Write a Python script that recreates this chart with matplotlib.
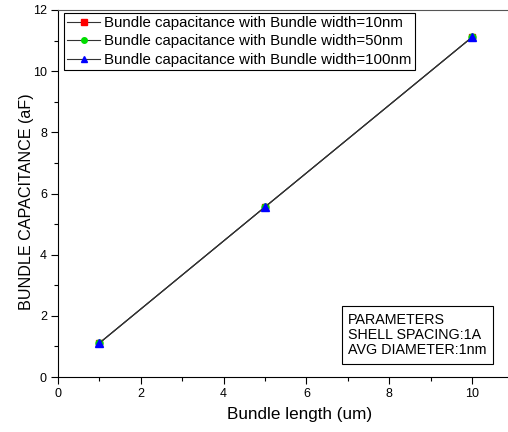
import matplotlib
matplotlib.use("Agg")
import matplotlib.pyplot as plt
from matplotlib.ticker import MultipleLocator

plt.rcParams['font.family'] = ['Liberation Sans', 'DejaVu Sans']

bundle_length = [1, 5, 10]
cap_w10 = [1.11, 5.56, 11.11]
cap_w50 = [1.11, 5.56, 11.11]
cap_w100 = [1.11, 5.56, 11.11]
labels = ["Bundle capacitance with Bundle width=10nm",
          "Bundle capacitance with Bundle width=50nm",
          "Bundle capacitance with Bundle width=100nm"]

fig = plt.figure(figsize=(5.08, 4.32), dpi=100)
ax = fig.add_axes([58/508, 1-377/432, 1-58/508, (377-10)/432])

ax.plot(bundle_length, cap_w10, color='#333333', lw=0.8, marker='s', ms=5,
        mfc='red', mec='red', label=labels[0])
ax.plot(bundle_length, cap_w50, color='#333333', lw=0.8, marker='o', ms=5,
        mfc='#00dd00', mec='#00dd00', label=labels[1])
ax.plot(bundle_length, cap_w100, color='#333333', lw=0.8, marker='^', ms=6,
        mfc='blue', mec='blue', label=labels[2])

ax.set_xlim(0, (508-58)/41.4)
ax.set_ylim(0, 12)
ax.xaxis.set_major_locator(MultipleLocator(2))
ax.xaxis.set_minor_locator(MultipleLocator(1))
ax.yaxis.set_major_locator(MultipleLocator(2))
ax.yaxis.set_minor_locator(MultipleLocator(1))
ax.tick_params(which='major', direction='out', length=5, width=0.8, labelsize=9, pad=3)
ax.tick_params(which='minor', direction='out', length=3, width=0.8)
ax.spines['right'].set_visible(False)
for s in ['left', 'bottom', 'top']:
    ax.spines[s].set_linewidth(0.8)
ax.spines['top'].set_color('#555555')

ax.set_xlabel("Bundle length (um)", fontsize=12.3)
ax.set_ylabel("BUNDLE CAPACITANCE (aF)", fontsize=11.6)
ax.xaxis.set_label_coords((300-58)/450, -(415-377)/367, transform=ax.transAxes)
ax.xaxis.label.set_va('center')
ax.yaxis.set_label_coords(-(58-27)/450, (377-201.5)/367, transform=ax.transAxes)
ax.yaxis.label.set_va('center')

leg = ax.legend(loc='upper left', bbox_to_anchor=(6/450, 1-3/367), fontsize=10.8,
                frameon=True, fancybox=False, edgecolor='black', framealpha=1,
                borderpad=0.2, labelspacing=0.3, handlelength=2.2, handletextpad=0.3,
                borderaxespad=0, markerscale=0.8)
leg.get_frame().set_linewidth(0.8)

ax.text((348-58)/450, (377-335)/367, "PARAMETERS\nSHELL SPACING:1A\nAVG DIAMETER:1nm",
        transform=ax.transAxes, fontsize=10.3, ha='left', va='center', linespacing=1.12,
        bbox=dict(boxstyle='square,pad=0.45', fc='white', ec='black', lw=0.8))

fig.savefig("out.png", dpi=100)
